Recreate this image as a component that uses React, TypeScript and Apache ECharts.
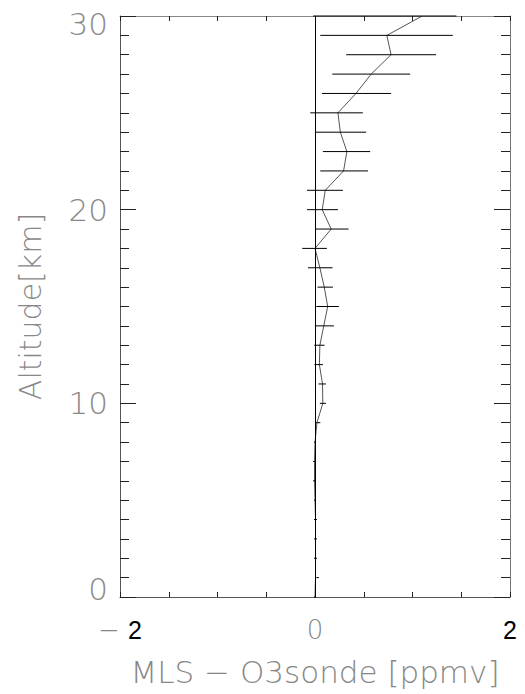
import React, { useEffect, useRef } from "react";
import * as echarts from "echarts";

// Altitude levels [km]
const altitudes = [
  0, 1, 2, 3, 4, 5, 6, 7, 8, 9, 10, 11, 12, 13, 14, 15, 16, 17, 18, 19, 20,
  21, 22, 23, 24, 25, 26, 27, 28, 29, 30,
];
// Mean difference MLS - O3sonde [ppmv]
const meanDiff = [
  0.0, 0.005, 0.005, 0.005, 0.005, 0.0, -0.005, -0.005, 0.0, 0.02, 0.08, 0.077,
  0.045, 0.05, 0.09, 0.13, 0.095, 0.05, 0.0, 0.166, 0.074, 0.105, 0.293, 0.327,
  0.26, 0.235, 0.42, 0.576, 0.78, 0.737, 1.1,
];
// Error bar extents (left / right ends)
const errLow = [
  -0.01, 0.013, -0.01, -0.01, -0.01, -0.01, -0.02, -0.02, -0.01, 0.0, 0.05,
  0.036, -0.005, -0.008, 0.006, 0.013, 0.026, -0.072, -0.131, 0.003, -0.082,
  -0.082, 0.054, 0.081, 0.003, -0.049, 0.071, 0.177, 0.32, 0.054, -0.02,
];
const errHigh = [
  0.01, 0.04, 0.02, 0.02, 0.02, 0.01, 0.0, 0.0, 0.01, 0.055, 0.112, 0.112,
  0.081, 0.098, 0.194, 0.245, 0.184, 0.18, 0.122, 0.344, 0.235, 0.286, 0.543,
  0.566, 0.525, 0.491, 0.781, 0.976, 1.242, 1.413, 1.45,
];

const xMin = -2;
const xMax = 2;
const xInterval = 2;
const yMin = 0;
const yMax = 30;
const yInterval = 10;

const xTitle = "MLS \u2212 O3sonde [ppmv]";
const yTitle = "Altitude[km]";

const THIN = "'DejaVu Sans', 'Open Sans', sans-serif";
const GRAY = "#888888";

export default function App() {
  const ref = useRef<HTMLDivElement>(null);
  useEffect(() => {
    if (!ref.current) return;
    const chart = echarts.init(ref.current, null, { renderer: "svg" });
    const xAxisBase = {
      type: "value" as const,
      min: xMin,
      max: xMax,
      interval: xInterval,
      splitLine: { show: false },
      axisTick: { show: true, inside: true, length: 5, lineStyle: { color: "#222", width: 1 } },
      minorTick: { show: true, splitNumber: 4, length: 5, lineStyle: { color: "#222", width: 1 } },
    };
    const yAxisBase = {
      type: "value" as const,
      min: yMin,
      max: yMax,
      interval: yInterval,
      splitLine: { show: false },
      axisTick: { show: true, inside: true, length: 16, lineStyle: { color: "#222", width: 1 } },
      minorTick: { show: true, splitNumber: 10, length: 9, lineStyle: { color: "#222", width: 1 } },
    };
    chart.setOption({
      animation: false,
      backgroundColor: "#fff",
      grid: { left: 120, right: 15, top: 16, bottom: 97 },
      xAxis: [
        {
          ...xAxisBase,
          position: "bottom",
          axisLine: { show: true, onZero: false, lineStyle: { color: "#555", width: 1 } },
          axisLabel: {
            show: true,
            margin: 20,
            formatter: (v: number) =>
              v < 0 ? `{g|\u2212 }{b|${Math.abs(v)}}` : v > 0 ? `{b|${v}}` : `{g|${v}}`,
            rich: {
              g: { fontFamily: THIN, fontWeight: 200, fontSize: 26, color: GRAY },
              b: { fontFamily: "'Liberation Sans', Arial, sans-serif", fontSize: 25, color: "#000" },
            },
          },
          name: xTitle,
          nameLocation: "middle",
          nameGap: 59,
          nameTextStyle: { fontFamily: THIN, fontWeight: 200, fontSize: 31, color: GRAY },
        },
        {
          ...xAxisBase,
          position: "top",
          axisLine: { show: true, onZero: false, lineStyle: { color: "#888", width: 1 } },
          axisLabel: { show: false },
        },
      ],
      yAxis: [
        {
          ...yAxisBase,
          position: "left",
          axisLine: { show: true, onZero: false, lineStyle: { color: "#555", width: 1 } },
          axisLabel: {
            show: true,
            margin: 12,
            fontFamily: THIN,
            fontWeight: 200,
            fontSize: 31,
            lineHeight: 16,
            color: GRAY,
            verticalAlignMinLabel: "bottom",
            verticalAlignMaxLabel: "top",
          },
          name: yTitle,
          nameLocation: "middle",
          nameGap: 75,
          nameTextStyle: { fontFamily: THIN, fontWeight: 200, fontSize: 30, color: GRAY },
        },
        {
          ...yAxisBase,
          position: "right",
          axisLine: { show: true, onZero: false, lineStyle: { color: "#777", width: 1 } },
          axisLabel: { show: false },
        },
      ],
      series: [
        {
          type: "line",
          xAxisIndex: 0,
          yAxisIndex: 0,
          data: altitudes.map((a, i) => [meanDiff[i], a]),
          showSymbol: false,
          lineStyle: { color: "#555", width: 1 },
          silent: true,
          z: 3,
          markLine: {
            silent: true,
            symbol: ["none", "none"],
            label: { show: false },
            lineStyle: { color: "#000", width: 1, type: "solid" },
            data: [{ xAxis: 0 }],
          },
        },
        {
          type: "custom",
          xAxisIndex: 0,
          yAxisIndex: 0,
          silent: true,
          z: 4,
          data: altitudes.map((a, i) => [errLow[i], errHigh[i], a]),
          encode: { x: [0, 1], y: 2 },
          renderItem: (params: any, api: any) => {
            const p1 = api.coord([api.value(0), api.value(2)]);
            const p2 = api.coord([api.value(1), api.value(2)]);
            return {
              type: "line",
              shape: { x1: p1[0], y1: p1[1], x2: p2[0], y2: p2[1] },
              style: { stroke: "#000", lineWidth: 1 },
            };
          },
        },
      ],
    });
    return () => chart.dispose();
  }, []);
  return (
    <div
      ref={ref}
      style={{ position: "fixed", left: 0, top: 0, width: 525, height: 694, background: "#fff" }}
    />
  );
}
